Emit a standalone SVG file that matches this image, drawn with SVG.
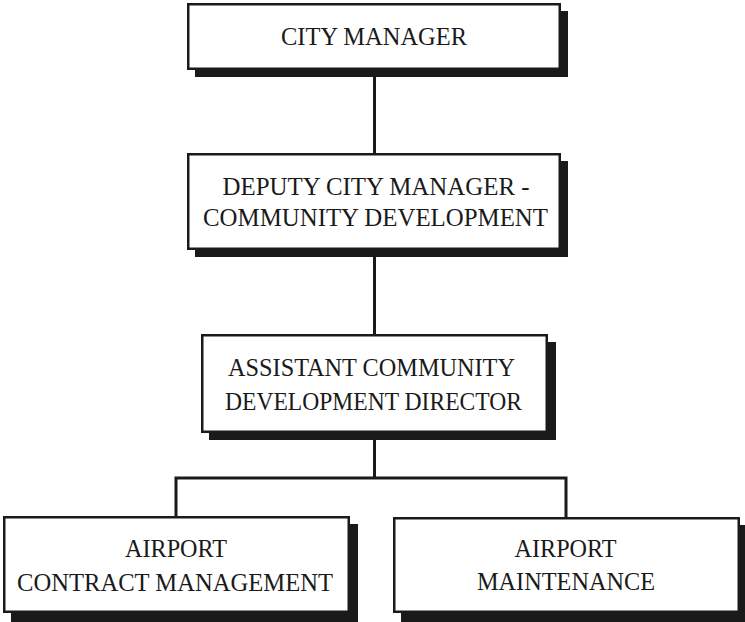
<svg xmlns="http://www.w3.org/2000/svg" width="745" height="622" viewBox="0 0 745 622">
<style>
.shadow{fill:#1a1a1a;stroke:none}
.box{fill:#fff;stroke:#1a1a1a;stroke-width:2.5}
.lbl{font-family:"Liberation Serif","Times New Roman",serif;font-size:26px;fill:#1a1a1a;text-anchor:middle}
.conn{fill:none;stroke:#1a1a1a;stroke-width:3}
</style>
<rect width="745" height="622" fill="#fff"/>
<g id="connectors">
<line class="conn" x1="374.5" y1="69" x2="374.5" y2="154"/>
<line class="conn" x1="374.5" y1="249" x2="374.5" y2="335"/>
<polyline class="conn" points="374.5,432 374.5,478"/>
<polyline class="conn" points="176,517 176,478 566,478 566,518"/>
</g>
<g id="city-manager">
<rect class="shadow" x="195" y="11" width="373" height="66"/>
<rect class="box" x="188.25" y="4.25" width="371.5" height="64.5"/>
<text class="lbl" x="374" y="45" textLength="186" lengthAdjust="spacingAndGlyphs">CITY MANAGER</text>
</g>
<g id="deputy-city-manager">
<rect class="shadow" x="195" y="161" width="373" height="96"/>
<rect class="box" x="188.25" y="154.25" width="371.5" height="94.5"/>
<text class="lbl" x="376" y="195" textLength="307" lengthAdjust="spacingAndGlyphs">DEPUTY CITY MANAGER -</text>
<text class="lbl" x="375.5" y="226" textLength="345" lengthAdjust="spacingAndGlyphs">COMMUNITY DEVELOPMENT</text>
</g>
<g id="assistant-director">
<rect class="shadow" x="209" y="342" width="347" height="98"/>
<rect class="box" x="202.25" y="335.25" width="344.5" height="96.5"/>
<text class="lbl" x="371.5" y="376" textLength="287" lengthAdjust="spacingAndGlyphs">ASSISTANT COMMUNITY</text>
<text class="lbl" x="373.5" y="410" textLength="297" lengthAdjust="spacingAndGlyphs">DEVELOPMENT DIRECTOR</text>
</g>
<g id="airport-contract-management">
<rect class="shadow" x="11" y="524" width="347" height="98"/>
<rect class="box" x="4.25" y="517.25" width="344.5" height="94.5"/>
<text class="lbl" x="176" y="557" textLength="102" lengthAdjust="spacingAndGlyphs">AIRPORT</text>
<text class="lbl" x="175" y="591" textLength="316" lengthAdjust="spacingAndGlyphs">CONTRACT MANAGEMENT</text>
</g>
<g id="airport-maintenance">
<rect class="shadow" x="401" y="525" width="347" height="97"/>
<rect class="box" x="394.25" y="518.25" width="344.5" height="93.5"/>
<text class="lbl" x="565.5" y="557" textLength="102" lengthAdjust="spacingAndGlyphs">AIRPORT</text>
<text class="lbl" x="566" y="590" textLength="178" lengthAdjust="spacingAndGlyphs">MAINTENANCE</text>
</g>
</svg>
